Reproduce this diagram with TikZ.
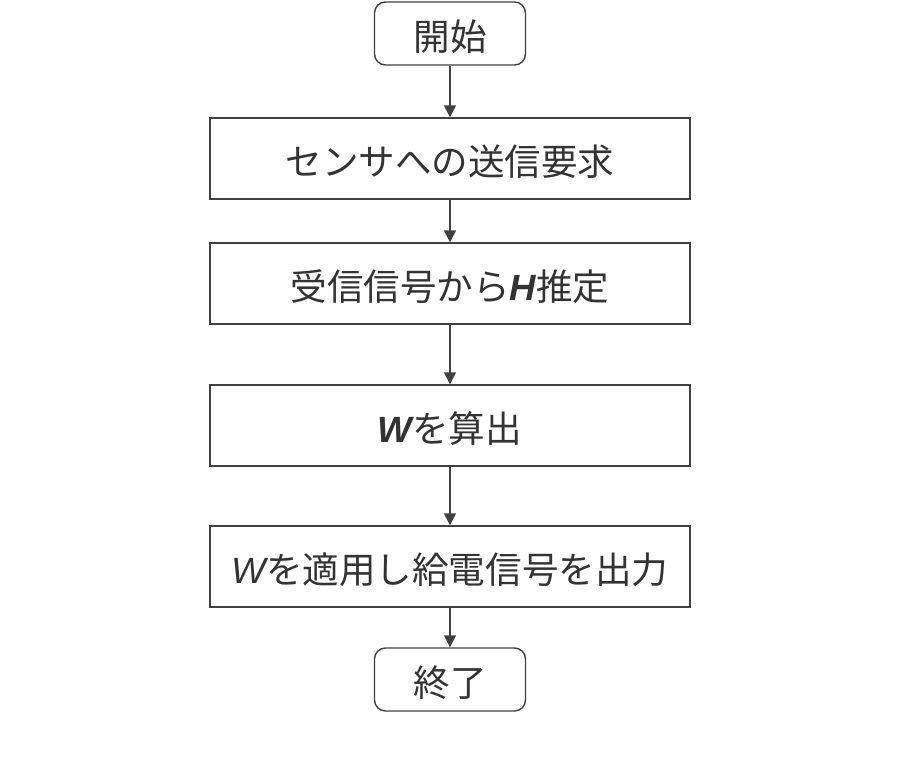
\documentclass[tikz,border=0pt]{standalone}
\usepackage{fontspec}
\usepackage{xcolor}
\usetikzlibrary{arrows.meta}
\setmainfont{Noto Sans CJK JP}
\newfontfamily\latinfont{Liberation Sans}
\definecolor{linegray}{HTML}{404040}
\definecolor{textgray}{HTML}{333333}
\newcommand{\vecW}{{\latinfont\bfseries\itshape W}}
\newcommand{\vecWi}{{\latinfont\itshape W}}
\newcommand{\vecH}{{\latinfont\bfseries\itshape H}}

\begin{document}
\begin{tikzpicture}[auto, >={Triangle[length=2.4mm,width=2.4mm]},
  every node/.style={text=textgray, font=\fontsize{20.8}{25}\selectfont, text height=22pt, text depth=2.2pt},
  process/.style={draw=linegray, line width=0.8pt, rectangle, minimum width=9.6cm, minimum height=1.62cm, inner sep=0pt},
  terminal/.style={draw=linegray, line width=0.8pt, rectangle, rounded corners=0.22cm, minimum width=3.02cm, minimum height=1.26cm, inner sep=0pt},
  flow/.style={->, draw=linegray, line width=0.8pt}]
  \useasboundingbox (0,0) rectangle (18,-15.44);
  % Define blocks
  \node [terminal] (start) at (9,-0.67) {開始};
  \node [process] (request) at (9,-3.17) {センサへの送信要求};
  \node [process] (estimate) at (9,-5.67) {受信信号から\vecH 推定};
  \node [process] (calc) at (9,-8.51) {\vecW を算出};
  \node [process] (output) at (9,-11.33) {\vecWi を適用し給電信号を出力};
  \node [terminal] (stop) at (9,-13.59) {終了};

  % Connect blocks with down arrows
  \draw [flow] (start) -- (request);
  \draw [flow] (request) -- (estimate);
  \draw [flow] (estimate) -- (calc);
  \draw [flow] (calc) -- (output);
  \draw [flow] (output) -- (stop);
\end{tikzpicture}
\end{document}
